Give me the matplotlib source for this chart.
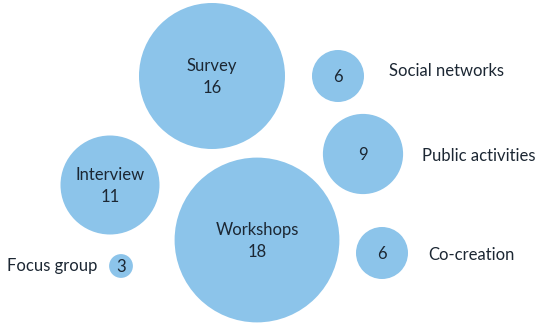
import matplotlib.pyplot as plt
from matplotlib.patches import Circle

# Data
methods = ["Survey", "Social networks", "Public activities", "Interview",
           "Workshops", "Co-creation", "Focus group"]
counts = [16, 6, 9, 11, 18, 6, 3]

# Layout (pixel positions of bubble centres) and where the label goes
cx = [212, 338, 363, 110, 257, 382, 121]
cy = [76, 76, 154, 185, 240, 253, 266]
label_pos = ["inside", "right", "right", "inside", "inside", "right", "left"]
label_gap = [0, 25, 19, 0, 0, 20, 12]
label_dy = [0, -5, 2, 0, 0, 2, 0]

bubble_color = "#8cc4ea"
text_color = "#1c2733"
plt.rcParams["font.family"] = ["Lato", "DejaVu Sans"]
fs = 12

fig = plt.figure(figsize=(5.5, 3.27), dpi=100)
ax = fig.add_axes([0, 0, 1, 1])
ax.set_xlim(0, 550)
ax.set_ylim(327, 0)
ax.set_aspect("equal")
ax.axis("off")

for name, v, x, y, pos, gap, dy in zip(methods, counts, cx, cy, label_pos, label_gap, label_dy):
    r = 4.7 * v - 2.2
    ax.add_patch(Circle((x, y), r, facecolor=bubble_color, edgecolor="none"))
    if pos == "inside":
        ax.text(x, y - 10, name, ha="center", va="center", fontsize=fs, color=text_color)
        ax.text(x, y + 12, str(v), ha="center", va="center", fontsize=fs, color=text_color)
    else:
        ax.text(x, y + 1, str(v), ha="center", va="center", fontsize=fs, color=text_color)
        if pos == "right":
            ax.text(x + r + gap, y + dy, name, ha="left", va="center", fontsize=fs, color=text_color)
        else:
            ax.text(x - r - gap, y + dy, name, ha="right", va="center", fontsize=fs, color=text_color)

fig.savefig("out.png", dpi=100)
